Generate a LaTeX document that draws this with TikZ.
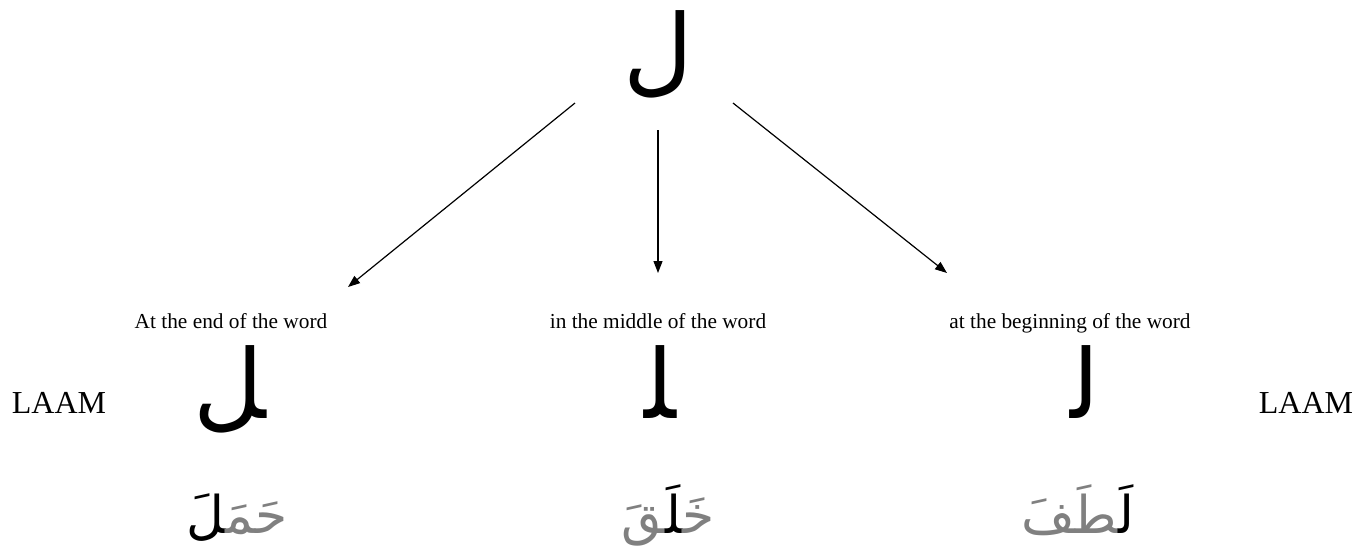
\documentclass[tikz,border=0pt]{standalone}
\usepackage{fontspec}
\usetikzlibrary{arrows.meta}
\setmainfont{Liberation Serif}
\newfontfamily\arabicfont[Script=Arabic]{DejaVu Sans}
\TeXXeTstate=1
\newcommand{\zwj}{^^^^200d}
\newcommand{\arb}[1]{{\arabicfont\beginR #1\endR}}
\definecolor{wordgray}{RGB}{128,128,128}
\tikzset{
  bigletter/.style={inner sep=0pt, anchor=base, font=\fontsize{48}{54}\selectfont},
  wordstyle/.style={inner sep=0pt, anchor=base, font=\fontsize{26}{30}\selectfont},
  caption/.style={inner sep=0pt, anchor=base, font=\fontsize{10.67}{12}\selectfont},
  laamname/.style={inner sep=0pt, font=\fontsize{16}{19}\selectfont},
  arrowline/.style={-{Triangle[length=6pt,width=4.5pt]}, line width=0.6pt}
}
\begin{document}
\begin{tikzpicture}[x=0.5pt,y=-0.5pt]
    \useasboundingbox (0,0) rectangle (1372,548);
    % the letter on its own
    \node[bigletter] (toplaam) at (658,83) {\arb{ل}};
    % where the arrows start and stop
    \coordinate (startend) at (575,103);
    \coordinate (startmid) at (658,130);
    \coordinate (startbeg) at (733,103);
    \coordinate (tipend) at (348,287);
    \coordinate (tipmid) at (658,273);
    \coordinate (tipbeg) at (947,273);
    \draw[arrowline] (startend) -- (tipend);
    \draw[arrowline] (startmid) -- (tipmid);
    \draw[arrowline] (startbeg) -- (tipbeg);
    % the three positions
    \node[caption] (endlbl) at (231,328) {At the end of the word};
    \node[caption] (midlbl) at (658,328) {in the middle of the word};
    \node[caption] (beglbl) at (1070,328) {at the beginning of the word};
    % the letter forms
    \node[bigletter] (endform) at (230,418) {\arb{\zwj ل}};
    \node[bigletter] (midform) at (660,418) {\arb{\zwj ل\zwj}};
    \node[bigletter] (begform) at (1085,418) {\arb{ل\zwj}};
    \node[laamname] (leftname) at (59,403) {LAAM};
    \node[laamname] (rightname) at (1306,403) {LAAM};
    % the example words
    \node[wordstyle] (endword) at (237,533)
      {\textcolor{black}{\arb{\zwj لَ}}\textcolor{wordgray}{\arb{حَمَ\zwj}}};
    \node[wordstyle] (midword) at (668,533)
      {\textcolor{wordgray}{\arb{\zwj قَ}}\textcolor{black}{\arb{\zwj لَ\zwj}}\textcolor{wordgray}{\arb{خَ\zwj}}};
    \node[wordstyle] (begword) at (1078,533)
      {\textcolor{wordgray}{\arb{\zwj طَفَ}}\textcolor{black}{\arb{لَ\zwj}}};
\end{tikzpicture}
\end{document}
